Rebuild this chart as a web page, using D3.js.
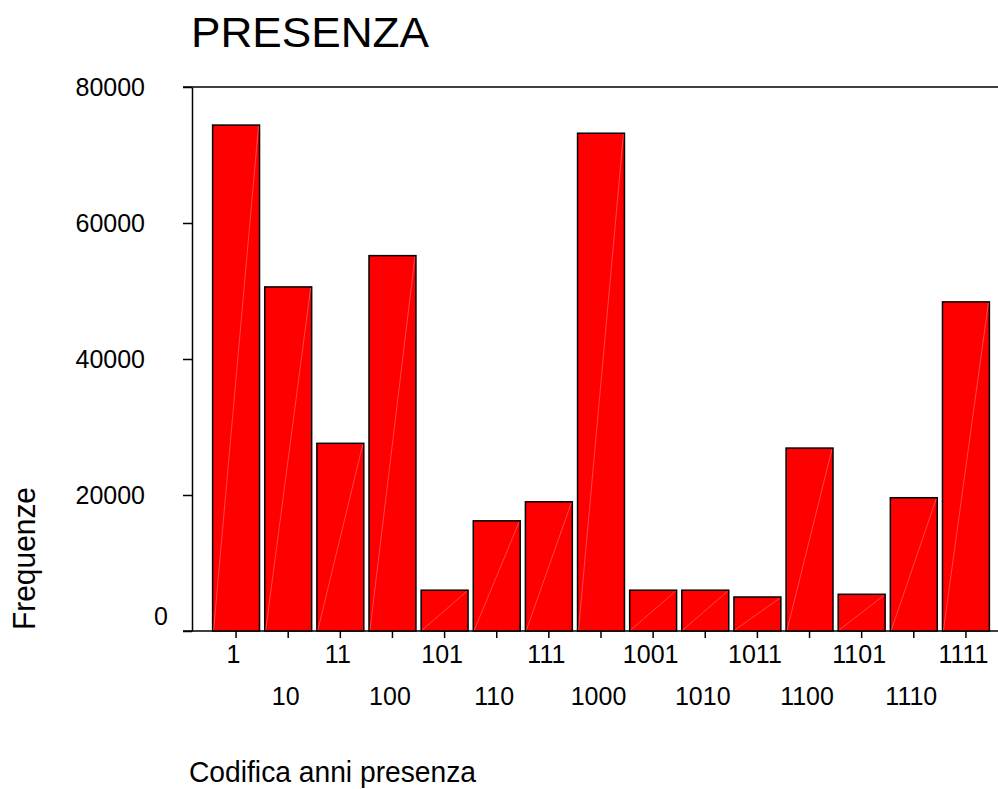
<!DOCTYPE html>
<html>
<head>
<meta charset="utf-8">
<script src="https://cdn.jsdelivr.net/npm/d3@7"></script>
<style>
  body { margin: 0; background: #fff; }
  text { font-family: "Liberation Sans", Arial, sans-serif; fill: #000; }
</style>
</head>
<body>
<script>
var width = 998;
var height = 789;

// data
var categories = ["1", "10", "11", "100", "101", "110", "111", "1000",
  "1001", "1010", "1011", "1100", "1101", "1110", "1111"];
var counts = [74400, 50600, 27600, 55200, 6000, 16200, 19000, 73200,
  6000, 6000, 5000, 26900, 5400, 19600, 48400];
var yTicks = [0, 20000, 40000, 60000, 80000];

var data = categories.map(function (c, i) {
  return { cat: c, value: counts[i] };
});

var svg = d3.select("body")
  .append("svg")
  .attr("width", width)
  .attr("height", height);

var x = d3.scaleBand()
  .domain(categories)
  .range([210, 992])
  .paddingInner(0.1)
  .paddingOuter(0.05);

var y = d3.scaleLinear()
  .domain([0, 80000])
  .range([631, 87]);

// title
svg.append("text")
  .attr("x", 191)
  .attr("y", 47)
  .attr("textLength", 238)
  .attr("lengthAdjust", "spacingAndGlyphs")
  .style("font-size", "42px")
  .text("PRESENZA");

// frame lines (top and bottom run off the right edge)
svg.append("line")
  .attr("x1", 183).attr("x2", width)
  .attr("y1", y(80000)).attr("y2", y(80000))
  .attr("stroke", "#000").attr("stroke-width", 1.5);
svg.append("line")
  .attr("x1", 183).attr("x2", width)
  .attr("y1", y(0)).attr("y2", y(0))
  .attr("stroke", "#000").attr("stroke-width", 1.5);

// bars
var bars = svg.append("g");
bars.selectAll("rect.bar")
  .data(data)
  .enter()
  .append("rect")
  .classed("bar", true)
  .attr("x", function (d) { return x(d.cat); })
  .attr("y", function (d) { return y(d.value); })
  .attr("width", x.bandwidth())
  .attr("height", function (d) { return y(0) - y(d.value); })
  .attr("fill", "#ff0000")
  .attr("stroke", "#000")
  .attr("stroke-width", 1.5);

// faint seam lines seen inside each bar
bars.selectAll("line.seam")
  .data(data)
  .enter()
  .append("line")
  .classed("seam", true)
  .attr("x1", function (d) { return x(d.cat) + 1; })
  .attr("y1", function (d) { return y(0) - 1; })
  .attr("x2", function (d) { return x(d.cat) + x.bandwidth() - 1; })
  .attr("y2", function (d) { return y(d.value) + 1; })
  .attr("stroke", "#ffffff")
  .attr("stroke-opacity", 0.35)
  .attr("stroke-width", 0.8);

// y axis
var yAxis = svg.append("g")
  .attr("transform", "translate(192,0)")
  .call(d3.axisLeft(y).tickValues(yTicks).tickSize(9).tickSizeOuter(0)
    .tickFormat(function (d) { return String(d); }));
yAxis.select(".domain").attr("stroke-width", 1.5);
yAxis.selectAll(".tick line").attr("stroke-width", 1.5);
yAxis.selectAll(".tick text")
  .style("font-size", "25px")
  .attr("font-family", null)
  .attr("text-anchor", "start")
  .attr("x", function (d) { return d === 0 ? -38 : -116.5; })
  .attr("dy", function (d) { return d === 0 ? "-0.25em" : "0.32em"; });

// x axis
var xAxis = svg.append("g")
  .attr("transform", "translate(0," + y(0) + ")")
  .call(d3.axisBottom(x).tickSize(7).tickSizeOuter(0));
xAxis.select(".domain").remove();
xAxis.selectAll(".tick line").attr("stroke-width", 1.5);
xAxis.selectAll(".tick text")
  .style("font-size", "25px")
  .attr("font-family", null)
  .attr("dy", null)
  .attr("dx", "-0.1em")
  .attr("y", function (d, i) { return i % 2 === 0 ? 32 : 74; });

// axis titles
svg.append("text")
  .attr("x", 189)
  .attr("y", 782)
  .attr("textLength", 287)
  .attr("lengthAdjust", "spacingAndGlyphs")
  .style("font-size", "30px")
  .text("Codifica anni presenza");

svg.append("text")
  .attr("transform", "translate(34.5,630) rotate(-90)")
  .attr("textLength", 143)
  .attr("lengthAdjust", "spacingAndGlyphs")
  .style("font-size", "31px")
  .text("Frequenze");
</script>
</body>
</html>
